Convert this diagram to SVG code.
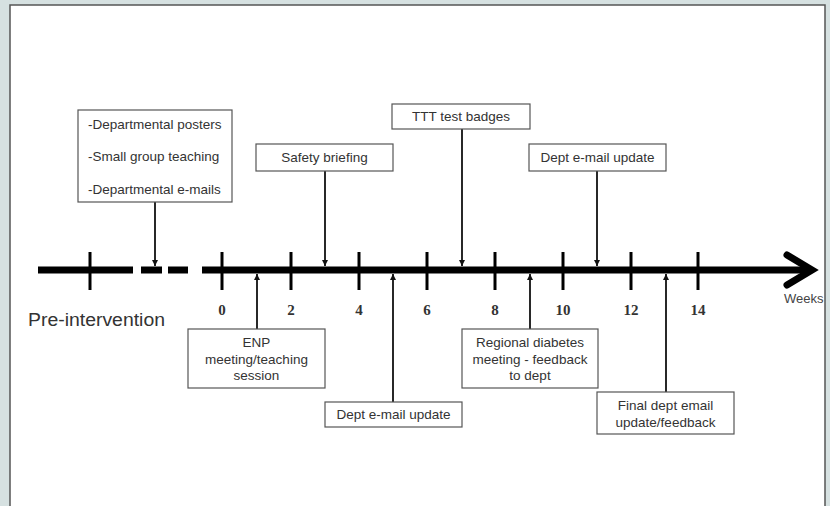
<svg xmlns="http://www.w3.org/2000/svg" width="830" height="506" viewBox="0 0 830 506">
<defs>
<style>
.box{fill:#fff;stroke:#555;stroke-width:1.2}
.bt{font-family:"Liberation Sans",Arial,sans-serif;font-size:13.5px;fill:#333;text-anchor:middle}
.bl{font-family:"Liberation Sans",Arial,sans-serif;font-size:13.5px;fill:#333}
.tk{font-family:"Liberation Serif","Times New Roman",serif;font-size:15px;font-weight:bold;fill:#333;text-anchor:middle}
.conn{stroke:#111;stroke-width:1.8;fill:none}
.axis{stroke:#000;stroke-width:7;fill:none}
.tick{stroke:#000;stroke-width:3;fill:none}
</style>
<marker id="ah" viewBox="0 0 10 10" refX="10" refY="5" markerWidth="3.5" markerHeight="3.5" orient="auto" markerUnits="strokeWidth">
<path d="M0,0 L10,5 L0,10 z" fill="#111"/>
</marker>
</defs>
<rect x="0" y="0" width="830" height="506" fill="#d6e1e1"/>
<rect x="10" y="5" width="815" height="510" fill="#fff" stroke="#555" stroke-width="1.5"/>

<g id="timeline">
<line class="axis" x1="38" y1="270" x2="133" y2="270"/>
<line class="axis" x1="141" y1="270" x2="162" y2="270"/>
<line class="axis" x1="168" y1="270" x2="188" y2="270"/>
<line class="axis" x1="202" y1="270" x2="810" y2="270"/>
<path d="M787,255 L812,270 L787,285" fill="none" stroke="#000" stroke-width="7" stroke-linejoin="miter" stroke-linecap="round"/>
<g class="tick">
<line x1="90" y1="252" x2="90" y2="290"/>
<line x1="222" y1="252" x2="222" y2="290"/>
<line x1="291" y1="252" x2="291" y2="290"/>
<line x1="359" y1="252" x2="359" y2="290"/>
<line x1="427" y1="252" x2="427" y2="290"/>
<line x1="495" y1="252" x2="495" y2="290"/>
<line x1="563" y1="252" x2="563" y2="290"/>
<line x1="631" y1="252" x2="631" y2="290"/>
<line x1="698" y1="252" x2="698" y2="290"/>
</g>
<text class="tk" x="222" y="315">0</text>
<text class="tk" x="291" y="315">2</text>
<text class="tk" x="359" y="315">4</text>
<text class="tk" x="427" y="315">6</text>
<text class="tk" x="495" y="315">8</text>
<text class="tk" x="563" y="315">10</text>
<text class="tk" x="631" y="315">12</text>
<text class="tk" x="698" y="315">14</text>
<text x="784" y="303" font-family="Liberation Sans,Arial,sans-serif" font-size="13" fill="#444">Weeks</text>
<text x="28" y="326" font-family="Liberation Sans,Arial,sans-serif" font-size="18" fill="#333" textLength="137" lengthAdjust="spacingAndGlyphs">Pre-intervention</text>
</g>

<g id="connectors">
<line class="conn" x1="155" y1="202" x2="155" y2="266" marker-end="url(#ah)"/>
<line class="conn" x1="325" y1="171" x2="325" y2="266" marker-end="url(#ah)"/>
<line class="conn" x1="462" y1="129" x2="462" y2="266" marker-end="url(#ah)"/>
<line class="conn" x1="597" y1="171" x2="597" y2="266" marker-end="url(#ah)"/>
<line class="conn" x1="257" y1="329" x2="257" y2="274" marker-end="url(#ah)"/>
<line class="conn" x1="393" y1="402" x2="393" y2="274" marker-end="url(#ah)"/>
<line class="conn" x1="530" y1="329" x2="530" y2="274" marker-end="url(#ah)"/>
<line class="conn" x1="666" y1="392" x2="666" y2="274" marker-end="url(#ah)"/>
</g>

<g id="pre-activities">
<rect class="box" x="78" y="110" width="154" height="92"/>
<text class="bl" x="88" y="129">-Departmental posters</text>
<text class="bl" x="88" y="161">-Small group teaching</text>
<text class="bl" x="88" y="194">-Departmental e-mails</text>
</g>
<g id="safety-briefing">
<rect class="box" x="256" y="144" width="137" height="27"/>
<text class="bt" x="324.5" y="162">Safety briefing</text>
</g>
<g id="ttt-badges">
<rect class="box" x="392" y="104" width="138" height="25"/>
<text class="bt" x="461" y="121">TTT test badges</text>
</g>
<g id="email-update-top">
<rect class="box" x="529" y="144" width="137" height="27"/>
<text class="bt" x="597.5" y="162">Dept e-mail update</text>
</g>
<g id="enp-meeting">
<rect class="box" x="188" y="329" width="137" height="59"/>
<text class="bt" x="256.5" y="347">ENP</text>
<text class="bt" x="256.5" y="364">meeting/teaching</text>
<text class="bt" x="256.5" y="380">session</text>
</g>
<g id="email-update-bottom">
<rect class="box" x="325" y="402" width="137" height="25"/>
<text class="bt" x="393.5" y="419">Dept e-mail update</text>
</g>
<g id="regional-meeting">
<rect class="box" x="462" y="329" width="136" height="59"/>
<text class="bt" x="530" y="347">Regional diabetes</text>
<text class="bt" x="530" y="364">meeting - feedback</text>
<text class="bt" x="530" y="380">to dept</text>
</g>
<g id="final-email">
<rect class="box" x="597" y="392" width="137" height="42"/>
<text class="bt" x="665.5" y="410">Final dept email</text>
<text class="bt" x="665.5" y="427">update/feedback</text>
</g>
</svg>
